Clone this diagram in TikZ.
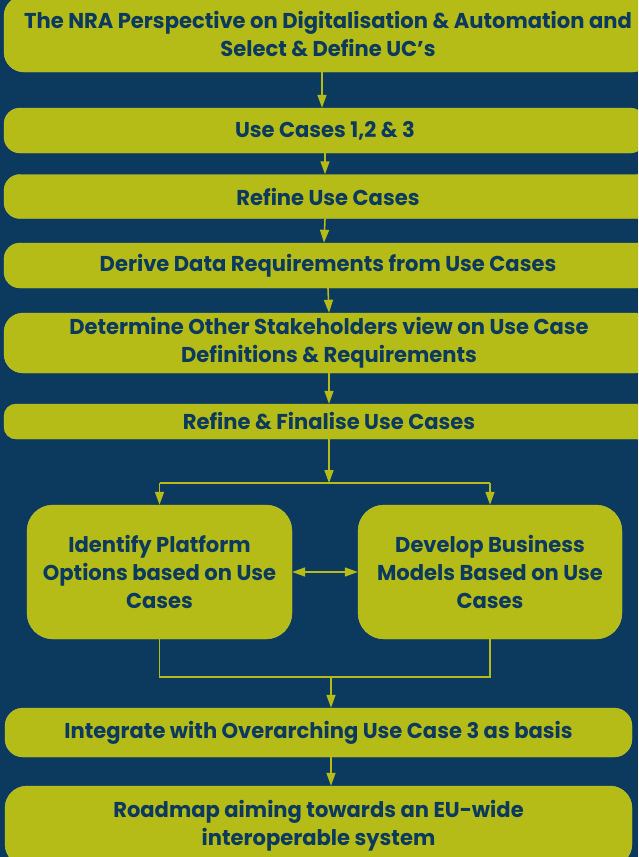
\documentclass[tikz,border=0pt]{standalone}
\usepackage{fontspec}
\setmainfont{Poppins}[FakeStretch=0.98]
\usepackage{tikz}
\usetikzlibrary{arrows.meta}
\definecolor{navy}{HTML}{0B3A5E}
\definecolor{olive}{HTML}{B5BC17}

\begin{document}
\begin{tikzpicture}[x=1pt,y=-1pt]
	\tikzstyle{stage} = [draw=olive!85!white, fill=olive, text=navy, font=\bfseries\fontsize{21.5}{28}\selectfont, align=center, inner sep=0pt, rounded corners=16pt]
	\tikzstyle{conn} = [draw=olive, line width=1.6, -{Triangle[width=9pt,length=13pt]}]
	\tikzstyle{edge} = [draw=olive, line width=1.6]
	\fill [navy] (0,0) rectangle (638,857);
	\useasboundingbox (0,0) rectangle (638,857);
	\clip (0,0) rectangle (638,857);
		\node[stage, minimum width=648, minimum height=76, rounded corners=20pt] (nra) at (328,34) {The NRA Perspective on Digitalisation \& Automation and\\Select \& Define UC’s};
		\node[stage, minimum width=642, minimum height=45] (uc) at (325,130.5) {Use Cases 1,2 \& 3};
		\node[stage, minimum width=648, minimum height=44] (refine) at (328,196.5) {Refine Use Cases};
		\node[stage, minimum width=648, minimum height=45] (derive) at (328,265.5) {Derive Data Requirements from Use Cases};
		\node[stage, minimum width=650, minimum height=60, rounded corners=19pt] (others) at (329,343) {Determine Other Stakeholders view on Use Case\\Definitions \& Requirements};
		\node[stage, minimum width=650, minimum height=35, rounded corners=12pt] (final) at (329,421.5) {Refine \& Finalise Use Cases};
		\node[stage, minimum width=265, minimum height=134, rounded corners=26pt] (platform) at (159.5,572) {Identify Platform\\Options based on Use\\Cases};
		\node[stage, minimum width=264, minimum height=134, rounded corners=26pt] (business) at (490,572) {Develop Business\\Models Based on Use\\Cases};
		\node[stage, minimum width=627, minimum height=49, rounded corners=18pt] (integrate) at (318.5,732.5) {Integrate with Overarching Use Case 3 as basis};
		\node[stage, minimum width=627, minimum height=80, rounded corners=22pt] (roadmap) at (318.5,826) {Roadmap aiming towards an EU-wide\\interoperable system};
		\coordinate (split) at (329,483);
		\coordinate (merge) at (331,677);
	\draw[conn] ([xshift=-6pt]nra.south) -- ([xshift=-3pt]uc.north);
	\draw[conn] (uc.south) -- ([xshift=-3pt]refine.north);
	\draw[conn] ([xshift=-3pt]refine.south) -- ([xshift=-4pt]derive.north);
	\draw[conn] (derive.south) -- (others.north);
	\draw[conn] (others.south) -- (final.north);
	\draw[conn] (final.south) -- (split);
	\draw[edge] (split -| platform) -- (split -| business);
	\draw[conn] (split -| platform) -- (platform.north);
	\draw[conn] (split -| business) -- (business.north);
	\draw[conn, {Triangle[width=9pt,length=13pt]}-{Triangle[width=9pt,length=13pt]}] (platform.east) -- (business.west);
	\draw[edge] (platform.south) |- (merge) -| (business.south);
	\draw[conn] (merge) -- ([xshift=12.5pt]integrate.north);
	\draw[conn] ([xshift=12.5pt]integrate.south) -- ([xshift=12.5pt]roadmap.north);
\end{tikzpicture}
\end{document}
